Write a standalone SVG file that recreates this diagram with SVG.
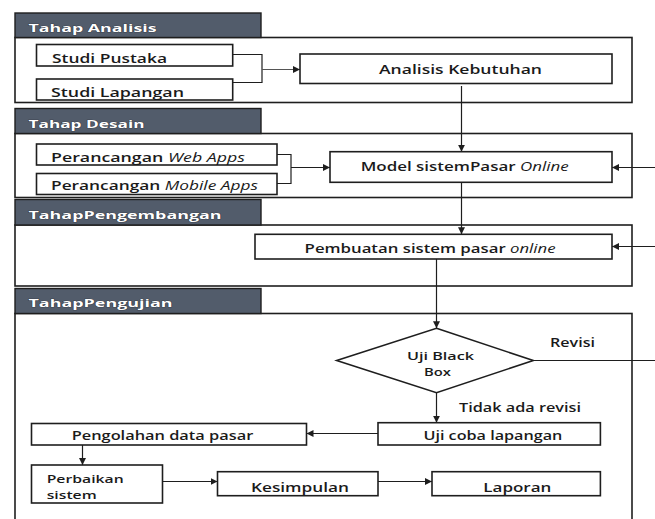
<svg xmlns="http://www.w3.org/2000/svg" width="655" height="519" viewBox="0 0 655 519">
<style>
.sec{fill:none;stroke:#1e1e1e;stroke-width:1.6}
.hdr{fill:#525c6b;stroke:#1e1e1e;stroke-width:1.4}
.ht{font-family:"Open Sans","Liberation Sans",sans-serif;font-weight:700;font-size:11px;fill:#ffffff;stroke:#2a2f38;stroke-width:0.7;paint-order:stroke}
.box{fill:#ffffff;stroke:#1e1e1e;stroke-width:1.6}
.t{font-family:"Open Sans","Liberation Sans",sans-serif;font-weight:600;font-size:12px;fill:#1a1a1a}
.s{font-size:11px}
.i{font-style:italic;font-weight:400}
.ln{fill:none;stroke:#1e1e1e;stroke-width:1.2}
.lg{fill:none;stroke:#555;stroke-width:1}
</style>
<defs>
<marker id="ah" viewBox="0 0 10 10" refX="10" refY="5" markerWidth="7" markerHeight="7" markerUnits="userSpaceOnUse" orient="auto">
<path d="M0,0 L10,5 L0,10 z" fill="#1e1e1e"/>
</marker>
</defs>
<rect width="655" height="519" fill="#ffffff"/>

<g id="sections">
<rect class="sec" x="15" y="37.5" width="617" height="65"/>
<rect class="hdr" x="15" y="13" width="246" height="24.5"/>
<text class="ht" x="28.5" y="31.5" textLength="128" lengthAdjust="spacingAndGlyphs">Tahap Analisis</text>

<rect class="sec" x="15" y="133.5" width="617" height="64"/>
<rect class="hdr" x="15" y="108.5" width="246" height="25"/>
<text class="ht" x="28.5" y="127.5" textLength="116" lengthAdjust="spacingAndGlyphs">Tahap Desain</text>

<rect class="sec" x="15" y="225" width="617" height="61"/>
<rect class="hdr" x="15" y="199.5" width="246" height="25.5"/>
<text class="ht" x="28.5" y="219.3" textLength="193" lengthAdjust="spacingAndGlyphs">TahapPengembangan</text>

<rect class="sec" x="15" y="313.5" width="617" height="220"/>
<rect class="hdr" x="15" y="288.5" width="246" height="25"/>
<text class="ht" x="28.5" y="306.7" textLength="144" lengthAdjust="spacingAndGlyphs">TahapPengujian</text>
</g>

<g id="connectors">
<path class="ln" d="M232.7,54.5 H262 V82.5 H232.7"/>
<path class="lg" d="M262,69.5 H300" marker-end="url(#ah)"/>
<path class="ln" d="M461.5,86 V151.7" marker-end="url(#ah)"/>
<path class="ln" d="M277,154.5 H291 V183.5 H277"/>
<path class="ln" d="M291,167.5 H330" marker-end="url(#ah)"/>
<path class="ln" d="M655,167.5 H612" marker-end="url(#ah)"/>
<path class="ln" d="M461.5,182.3 V234.3" marker-end="url(#ah)"/>
<path class="ln" d="M655,246.5 H612" marker-end="url(#ah)"/>
<path class="ln" d="M436.5,259 V328.3" marker-end="url(#ah)"/>
<path class="ln" d="M533.3,360.5 H655"/>
<path class="ln" d="M436.5,392.7 V422.7" marker-end="url(#ah)"/>
<path class="ln" d="M378,433.5 H306.5" marker-end="url(#ah)"/>
<path class="ln" d="M82.5,445 V465" marker-end="url(#ah)"/>
<path class="ln" d="M162.5,481.5 H217.5" marker-end="url(#ah)"/>
<path class="ln" d="M378,481.5 H432" marker-end="url(#ah)"/>
</g>

<g id="studi-pustaka">
<rect class="box" x="36.5" y="44.5" width="196.2" height="21.5"/>
<text class="t" x="52" y="63.3" textLength="115" lengthAdjust="spacingAndGlyphs">Studi Pustaka</text>
</g>
<g id="studi-lapangan">
<rect class="box" x="36.5" y="79" width="196.2" height="21"/>
<text class="t" x="51" y="97.3" textLength="133" lengthAdjust="spacingAndGlyphs">Studi Lapangan</text>
</g>
<g id="analisis-kebutuhan">
<rect class="box" x="300" y="54" width="312" height="29.5"/>
<text class="t" x="379" y="73.5" textLength="163" lengthAdjust="spacingAndGlyphs">Analisis Kebutuhan</text>
</g>
<g id="perancangan-web">
<rect class="box" x="36.5" y="144" width="240.5" height="21"/>
<text class="t" x="51" y="161.7" textLength="194" lengthAdjust="spacingAndGlyphs">Perancangan <tspan class="i">Web  Apps</tspan></text>
</g>
<g id="perancangan-mobile">
<rect class="box" x="36.5" y="173.5" width="240.5" height="21"/>
<text class="t" x="51" y="190.3" textLength="207" lengthAdjust="spacingAndGlyphs">Perancangan <tspan class="i">Mobile Apps</tspan></text>
</g>
<g id="model-sistem">
<rect class="box" x="330" y="151.7" width="282" height="30.6"/>
<text class="t" x="360.7" y="170.5" textLength="208" lengthAdjust="spacingAndGlyphs">Model sistemPasar <tspan class="i">Online</tspan></text>
</g>
<g id="pembuatan-sistem">
<rect class="box" x="255" y="234.3" width="357" height="24.7"/>
<text class="t" x="304.6" y="253.3" textLength="251" lengthAdjust="spacingAndGlyphs">Pembuatan sistem  pasar <tspan class="i">online</tspan></text>
</g>
<g id="uji-black-box">
<polygon class="box" points="436.5,328.3 533.3,360.5 436.5,392.7 336.7,360.5"/>
<text class="t s" x="407" y="359.5" textLength="67" lengthAdjust="spacingAndGlyphs">Uji Black</text>
<text class="t s" x="424" y="375.8" textLength="27" lengthAdjust="spacingAndGlyphs">Box</text>
</g>
<g id="label-revisi">
<text class="t" x="550" y="346.7" textLength="45" lengthAdjust="spacingAndGlyphs">Revisi</text>
</g>
<g id="label-tidak-ada-revisi">
<text class="t" x="459" y="411.7" textLength="122" lengthAdjust="spacingAndGlyphs">Tidak ada revisi</text>
</g>
<g id="uji-coba-lapangan">
<rect class="box" x="378" y="422.7" width="222.4" height="22.3"/>
<text class="t" x="423.4" y="440" textLength="139" lengthAdjust="spacingAndGlyphs">Uji coba lapangan</text>
</g>
<g id="pengolahan-data">
<rect class="box" x="31.5" y="423.5" width="275" height="21.5"/>
<text class="t" x="71.7" y="440" textLength="181.6" lengthAdjust="spacingAndGlyphs">Pengolahan data pasar</text>
</g>
<g id="perbaikan-sistem">
<rect class="box" x="31.5" y="465" width="131" height="38"/>
<text class="t s" x="46.7" y="482.8" textLength="77" lengthAdjust="spacingAndGlyphs">Perbaikan</text>
<text class="t s" x="46.7" y="499" textLength="50" lengthAdjust="spacingAndGlyphs">sistem</text>
</g>
<g id="kesimpulan">
<rect class="box" x="217.5" y="471.7" width="160.5" height="24"/>
<text class="t" x="251" y="491.5" textLength="98" lengthAdjust="spacingAndGlyphs">Kesimpulan</text>
</g>
<g id="laporan">
<rect class="box" x="432" y="471.7" width="168.4" height="24"/>
<text class="t" x="483.3" y="491.5" textLength="68" lengthAdjust="spacingAndGlyphs">Laporan</text>
</g>
</svg>
